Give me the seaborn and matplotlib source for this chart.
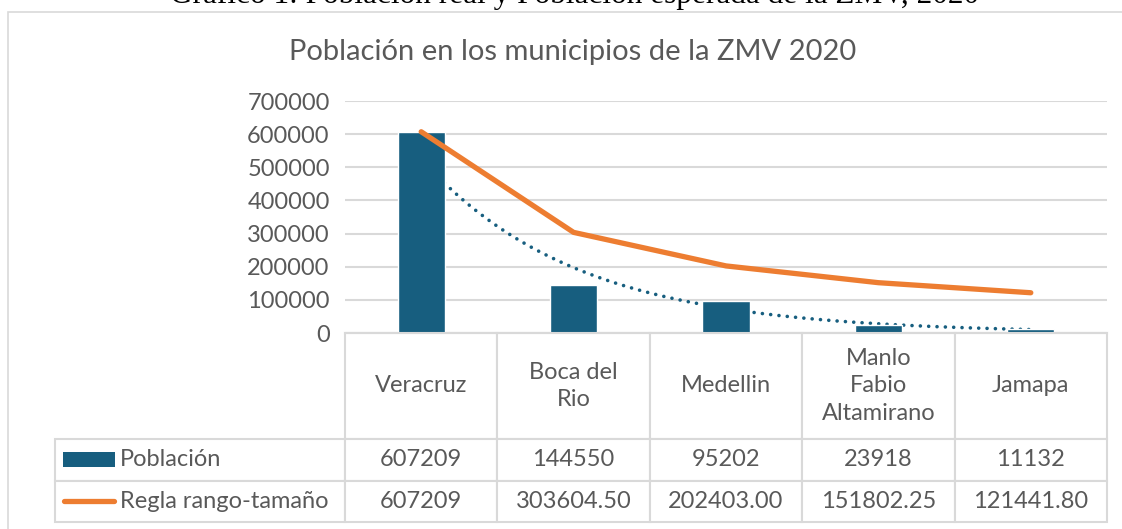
import numpy as np
import pandas as pd
import seaborn as sns
import matplotlib.pyplot as plt
from matplotlib.patches import Rectangle
from matplotlib.lines import Line2D

municipios = ["Veracruz", "Boca del\nRio", "Medellin", "Manlo\nFabio\nAltamirano", "Jamapa"]
poblacion = [607209, 144550, 95202, 23918, 11132]
regla = [607209, 303604.50, 202403.00, 151802.25, 121441.80]
regla_txt = ["607209", "303604.50", "202403.00", "151802.25", "121441.80"]
y_ticks = [0, 100000, 200000, 300000, 400000, 500000, 600000, 700000]

titulo = "Población en los municipios de la ZMV 2020"
caption = "Gráfico 1: Población real y Población esperada de la ZMV, 2020"

azul = "#175E7F"
naranja = "#ED7D31"
gris_txt = "#595959"
gris_lin = "#D9D9D9"

sns.set_style("white")
plt.rcParams["font.family"] = ["Lato", "DejaVu Sans"]

df = pd.DataFrame({"municipio": municipios, "poblacion": poblacion, "regla": regla})
df["pos"] = np.arange(len(df))

fig = plt.figure(figsize=(11.22, 5.29), dpi=100)
W, H = 1122, 529

# chart border and captions
fig.patches.append(Rectangle((8 / W, -0.1), 1.2, 1 - 12 / H + 0.1, transform=fig.transFigure,
                             fill=False, edgecolor=gris_lin, lw=1.2))
fig.text(575 / W, 1 - 3 / H, caption, ha="center", va="baseline",
         family="Liberation Serif", fontsize=22.5, color="black")
fig.text(573 / W, 1 - 60 / H, titulo, ha="center", va="baseline", fontsize=21, color=gris_txt)

ax = fig.add_axes([345 / W, 1 - 333 / H, 762 / W, 232 / H])

# exponential trendline (fit on the Población series, as in Excel)
b, a = np.polyfit(df["pos"] + 1, np.log(df["poblacion"]), 1)
xs = np.linspace(0, len(df) - 1, 200)
trend = pd.DataFrame({"x": xs, "y": np.exp(a + b * (xs + 1))})
sns.lineplot(data=trend, x="x", y="y", ax=ax, color=azul, lw=2.6,
             linestyle=(0, (0.01, 2.3)), dash_capstyle="round", zorder=1)

sns.barplot(data=df, x="pos", y="poblacion", ax=ax, color=azul, saturation=1,
            width=0.31, zorder=2)
sns.lineplot(data=df, x="pos", y="regla", ax=ax, color=naranja, lw=3.8,
             solid_capstyle="round", zorder=3)

ax.set_xlim(-0.5, len(df) - 0.5)
ax.set_ylim(0, 700000)
ax.set_yticks(y_ticks)
ax.set_yticklabels([str(v) for v in y_ticks])
ax.set_xticks([])
ax.set_xlabel("")
ax.set_ylabel("")
ax.grid(axis="y", color=gris_lin, lw=1.5, zorder=0)
ax.set_axisbelow(True)
ax.tick_params(axis="y", length=0, pad=11, labelsize=17, labelcolor=gris_txt)
for s in ["left", "right", "top"]:
    ax.spines[s].set_visible(False)
ax.spines["bottom"].set_color(gris_lin)
ax.spines["bottom"].set_linewidth(1.5)

# data table under the chart
series_labels = ["Población", "Regla rango-tamaño"]
cell_text = [[""] + municipios,
             [series_labels[0]] + [str(v) for v in poblacion],
             [series_labels[1]] + regla_txt]
tab_left, tab_bottom = 55, 522
tbl = ax.table(cellText=cell_text, cellLoc="center",
               bbox=[(tab_left - 345) / 762, (333 - tab_bottom) / 232,
                     (1107 - tab_left) / 762, (tab_bottom - 333) / 232])
tbl.auto_set_font_size(False)
tbl.set_fontsize(17)
row_h = [106, 42, 41]
for (r, c), cell in tbl.get_celld().items():
    cell.set_edgecolor(gris_lin)
    cell.set_linewidth(1.5)
    cell.set_height(row_h[r])
    cell.set_width(290 if c == 0 else 152.4)
    txt = cell.get_text()
    txt.set_color(gris_txt)
    txt.set_fontfamily(["Lato", "DejaVu Sans"])
    txt.set_linespacing(1.4)
    if c == 0:
        cell.set_text_props(ha="left")
        cell._loc = "left"
        cell.PAD = 65 / 290
    if r == 0 and c == 0:
        cell.visible_edges = ""

# legend keys inside the table
fig.patches.append(Rectangle((63 / W, 1 - 467 / H), 52 / W, 15 / H,
                             transform=fig.transFigure, facecolor=azul, edgecolor="none"))
fig.lines.append(Line2D([64 / W, 114 / W], [1 - 501 / H, 1 - 501 / H], transform=fig.transFigure,
                        color=naranja, lw=3.8, solid_capstyle="round"))

fig.savefig("out.png", dpi=100)
